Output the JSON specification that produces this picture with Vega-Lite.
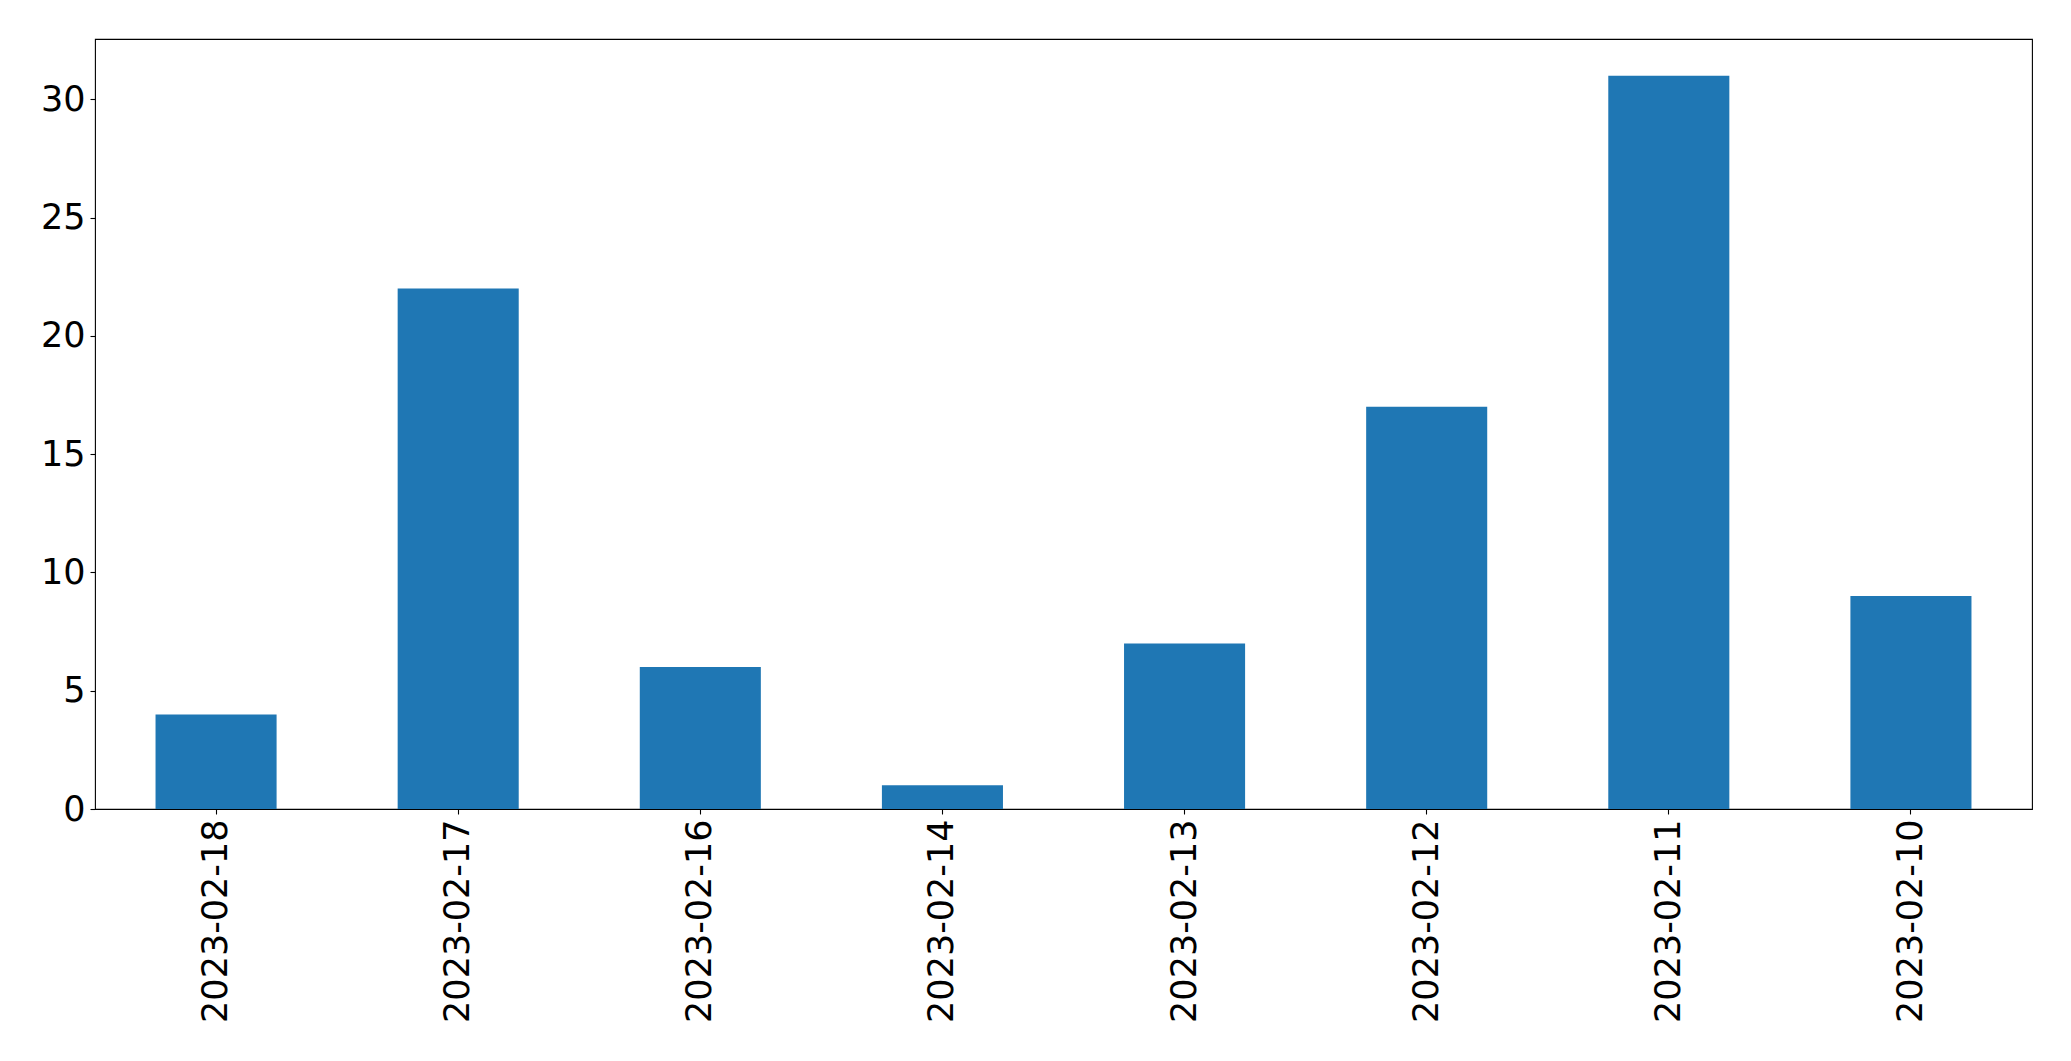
{
  "$schema": "https://vega.github.io/schema/vega-lite/v6.json",
  "autosize": "none",
  "width": 1937,
  "height": 770,
  "padding": {"left": 95, "top": 39, "right": 39, "bottom": 252},
  "background": "white",
  "data": {
    "values": [
      {"date": "2023-02-18", "count": 4},
      {"date": "2023-02-17", "count": 22},
      {"date": "2023-02-16", "count": 6},
      {"date": "2023-02-14", "count": 1},
      {"date": "2023-02-13", "count": 7},
      {"date": "2023-02-12", "count": 17},
      {"date": "2023-02-11", "count": 31},
      {"date": "2023-02-10", "count": 9}
    ]
  },
  "mark": {"type": "bar", "color": "#1f77b4"},
  "encoding": {
    "x": {
      "field": "date",
      "type": "nominal",
      "sort": null,
      "scale": {"paddingInner": 0.5, "paddingOuter": 0.25},
      "axis": {
        "title": null,
        "labelAngle": -90,
        "labelLimit": 0,
        "labelFont": "DejaVu Sans",
        "labelFontSize": 35,
        "labelColor": "black",
        "labelPadding": 5,
        "tickColor": "black",
        "tickSize": 5,
        "tickWidth": 1.1,
        "domain": false,
        "grid": false
      }
    },
    "y": {
      "field": "count",
      "type": "quantitative",
      "scale": {"domain": [0, 32.55], "nice": false},
      "axis": {
        "title": null,
        "values": [0, 5, 10, 15, 20, 25, 30],
        "labelFont": "DejaVu Sans",
        "labelFontSize": 35,
        "labelColor": "black",
        "labelPadding": 5,
        "tickColor": "black",
        "tickSize": 5,
        "tickWidth": 1.1,
        "domain": false,
        "grid": false
      }
    }
  },
  "config": {
    "view": {"stroke": "black", "strokeWidth": 1.1}
  }
}
